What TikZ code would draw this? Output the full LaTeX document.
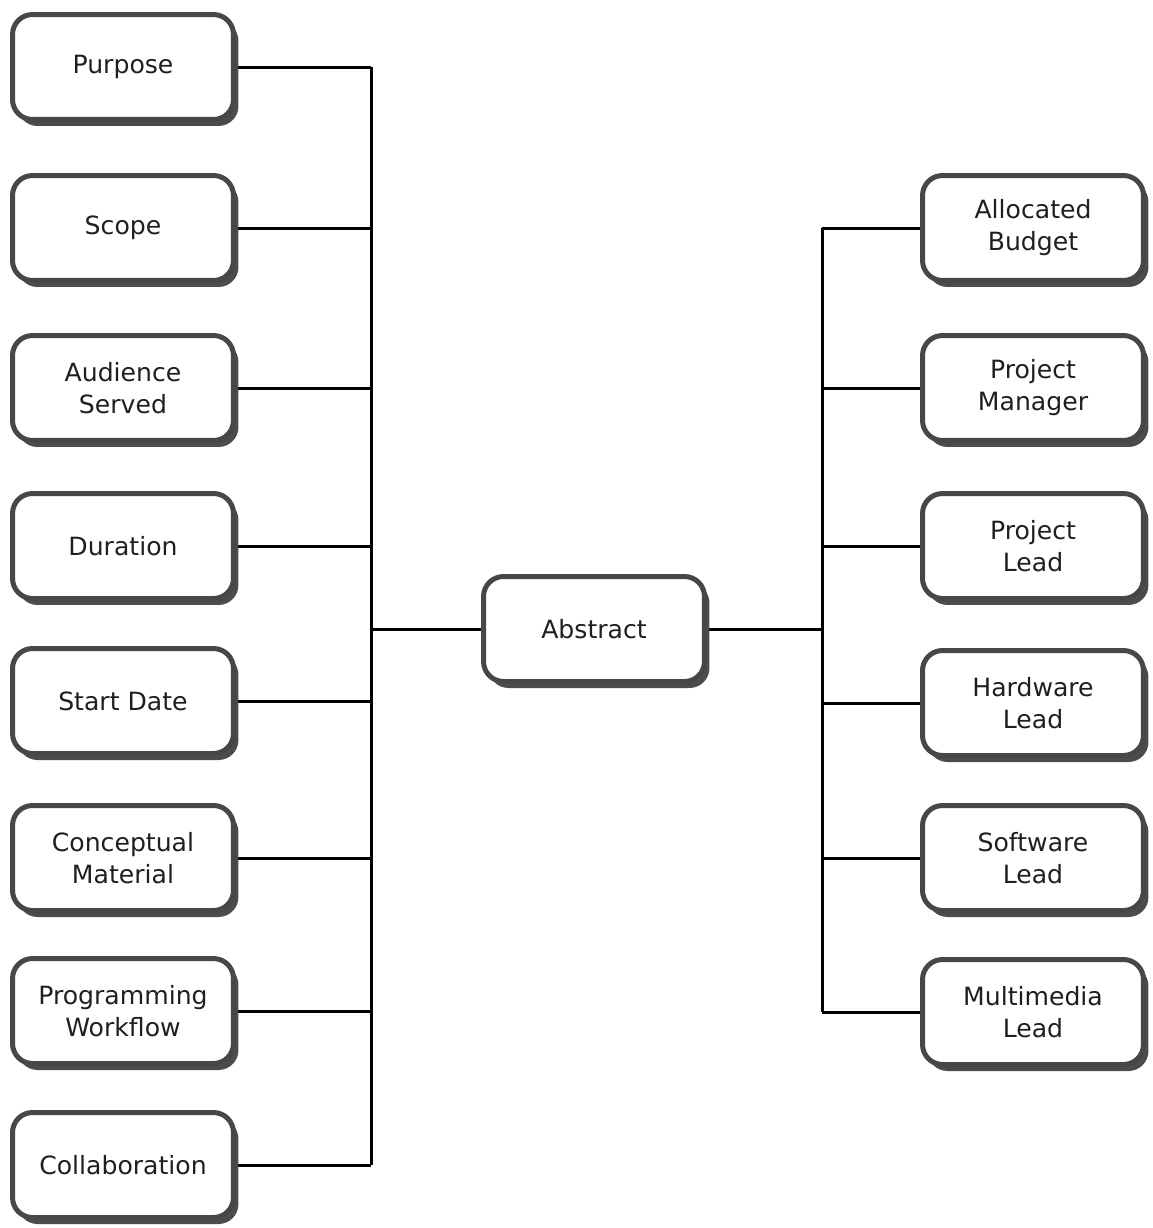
\documentclass[tikz,border=0pt]{standalone}
\usepackage{fontspec}
\setmainfont{DejaVu Sans}
\usetikzlibrary{shadows,backgrounds}

\tikzset{
	caixa/.style={draw=black!72, line width=0.1cm, fill=white, rounded corners=0.4cm,
		minimum width=4.42cm, minimum height=2.1cm, align=center, text=black!88,
		font=\fontsize{14.3}{18.2}\selectfont,
		drop shadow={shadow xshift=0.1cm, shadow yshift=-0.13cm, fill=black!70, opacity=1}},
	ligacao/.style={line width=0.06cm, black}
}

\begin{document}
\begin{tikzpicture}[x=0.02cm, y=-0.02cm]
	\useasboundingbox (0,0) rectangle (1153,1228);
	
	% Centro
	\node[caixa] (abstract) at (594,629) {Abstract};
	
	% Lado esquerdo
	\node[caixa] (purpose) at (123,67) {Purpose};
	\node[caixa] (scope) at (123,228) {Scope};
	\node[caixa] (audience) at (123,388) {Audience\\Served};
	\node[caixa] (duration) at (123,546) {Duration};
	\node[caixa] (start) at (123,701) {Start Date};
	\node[caixa] (concept) at (123,858) {Conceptual\\Material};
	\node[caixa] (prog) at (123,1011) {Programming\\Workflow};
	\node[caixa] (collab) at (123,1165) {Collaboration};
	
	% Lado direito
	\node[caixa] (budget) at (1033,228) {Allocated\\Budget};
	\node[caixa] (manager) at (1033,388) {Project\\Manager};
	\node[caixa] (plead) at (1033,546) {Project\\Lead};
	\node[caixa] (hwlead) at (1033,703) {Hardware\\Lead};
	\node[caixa] (swlead) at (1033,858) {Software\\Lead};
	\node[caixa] (mmlead) at (1033,1012) {Multimedia\\Lead};
	
	% Troncos
	\coordinate (troncoE) at (371,0);
	\coordinate (troncoD) at (822,0);
	
	\begin{scope}[on background layer]
		\draw[ligacao] (purpose -| troncoE) -- (collab -| troncoE);
		\draw[ligacao] (budget -| troncoD) -- (mmlead -| troncoD);
		\draw[ligacao] (abstract) -- (abstract -| troncoE);
		\draw[ligacao] (abstract) -- (abstract -| troncoD);
		
		\draw[ligacao] (purpose) -- (purpose -| troncoE);
		\draw[ligacao] (scope) -- (scope -| troncoE);
		\draw[ligacao] (audience) -- (audience -| troncoE);
		\draw[ligacao] (duration) -- (duration -| troncoE);
		\draw[ligacao] (start) -- (start -| troncoE);
		\draw[ligacao] (concept) -- (concept -| troncoE);
		\draw[ligacao] (prog) -- (prog -| troncoE);
		\draw[ligacao] (collab) -- (collab -| troncoE);
		
		\draw[ligacao] (budget) -- (budget -| troncoD);
		\draw[ligacao] (manager) -- (manager -| troncoD);
		\draw[ligacao] (plead) -- (plead -| troncoD);
		\draw[ligacao] (hwlead) -- (hwlead -| troncoD);
		\draw[ligacao] (swlead) -- (swlead -| troncoD);
		\draw[ligacao] (mmlead) -- (mmlead -| troncoD);
	\end{scope}
\end{tikzpicture}
\end{document}
